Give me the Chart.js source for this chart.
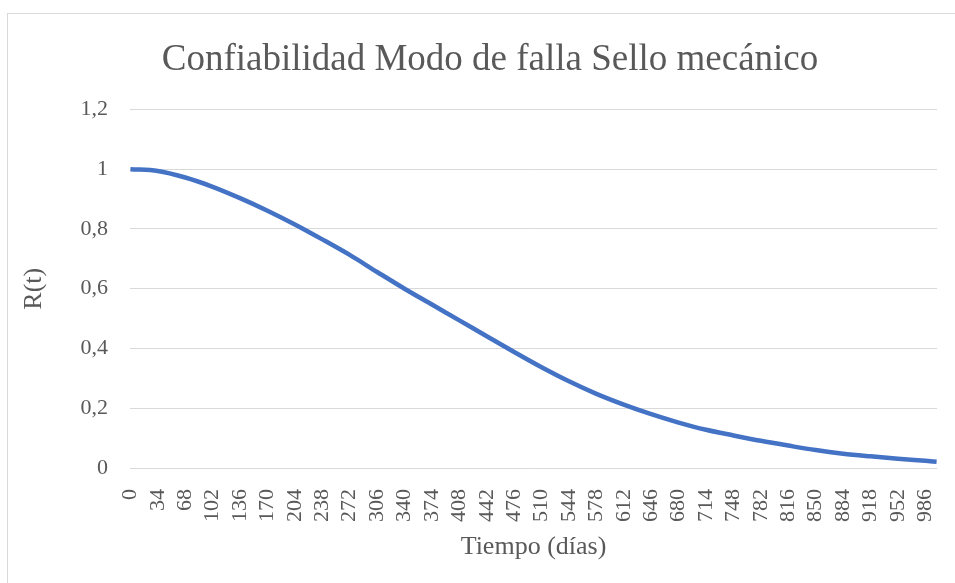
<!DOCTYPE html>
<html>
<head>
<meta charset="utf-8">
<script src="https://cdn.jsdelivr.net/npm/chart.js@4"></script>
<style>
  html, body { margin: 0; padding: 0; background: #fff; overflow: hidden; }
  #wrap { position: relative; width: 980px; height: 583px; }
</style>
</head>
<body>
<div id="wrap"><canvas id="chart"></canvas></div>
<script>
// datos
const chartTitle = 'Confiabilidad Modo de falla Sello mecánico';
const xTitle = 'Tiempo (días)';
const yTitle = 'R(t)';
const xTickLabels = [0, 34, 68, 102, 136, 170, 204, 238, 272, 306, 340, 374, 408, 442, 476,
  510, 544, 578, 612, 646, 680, 714, 748, 782, 816, 850, 884, 918, 952, 986];
const yTickLabels = ['0', '0,2', '0,4', '0,6', '0,8', '1', '1,2'];
const days = [0, 34, 68, 102, 136, 170, 204, 238, 272, 306, 340, 374, 408, 442, 476,
  510, 544, 578, 612, 646, 680, 714, 748, 782, 816, 850, 884, 918, 952, 986, 1000];
const reliability = [1.000, 0.994, 0.972, 0.941, 0.903, 0.861, 0.815, 0.765, 0.713, 0.656,
  0.600, 0.547, 0.494, 0.441, 0.388, 0.337, 0.290, 0.248, 0.212, 0.180,
  0.152, 0.128, 0.109, 0.091, 0.075, 0.060, 0.048, 0.039, 0.031, 0.024, 0.021];

const font = '"Liberation Serif", "Times New Roman", serif';
const grey = '#595959';

// marco exterior del gráfico
const frame = {
  id: 'frame',
  beforeDraw(chart) {
    const c = chart.ctx;
    c.save();
    c.fillStyle = '#fff';
    c.fillRect(0, 0, chart.width, chart.height);
    c.strokeStyle = '#d9d9d9';
    c.lineWidth = 1;
    c.strokeRect(7.5, 13.5, 1200, 1200);
    c.restore();
  }
};

const ctx = document.getElementById('chart').getContext('2d');
const chart = new Chart(ctx, {
  type: 'line',
  data: {
    datasets: [{
      data: days.map((d, i) => ({ x: d, y: reliability[i] })),
      borderColor: '#4472C4',
      borderWidth: 4.5,
      pointRadius: 0,
      cubicInterpolationMode: 'monotone',
      fill: false
    }]
  },
  options: {
    responsive: true,
    maintainAspectRatio: false,
    animation: false,
    layout: { padding: { top: 0, left: 43, right: 43, bottom: 0 } },
    plugins: {
      legend: { display: false },
      tooltip: { enabled: false },
      title: {
        display: true,
        text: chartTitle,
        color: grey,
        font: { family: font, size: 37, weight: 'normal' },
        padding: { top: 38, bottom: 27 }
      }
    },
    scales: {
      x: {
        type: 'linear',
        min: -0.5,
        max: 1000.5,
        afterBuildTicks(scale) {
          scale.ticks = xTickLabels.map(v => ({ value: v }));
        },
        afterFit(scale) { scale.height = 115; },
        grid: { display: false },
        border: { display: false },
        ticks: {
          autoSkip: false,
          minRotation: 90,
          maxRotation: 90,
          padding: 13,
          color: grey,
          font: { family: font, size: 22 },
          callback: v => String(v)
        },
        title: {
          display: true,
          text: xTitle,
          color: grey,
          font: { family: font, size: 26 },
          padding: { top: 0, bottom: 20 }
        }
      },
      y: {
        min: 0,
        max: 1.2,
        afterFit(scale) { scale.width = 87; },
        grid: { color: '#d9d9d9', lineWidth: 1, drawTicks: false },
        border: { display: false },
        ticks: {
          stepSize: 0.2,
          padding: 22,
          color: grey,
          font: { family: font, size: 22 },
          callback: (v, i) => yTickLabels[i]
        },
        title: {
          display: true,
          text: yTitle,
          color: grey,
          font: { family: font, size: 26 },
          padding: { top: -24, bottom: 0 }
        }
      }
    }
  },
  plugins: [frame]
});
</script>
</body>
</html>
